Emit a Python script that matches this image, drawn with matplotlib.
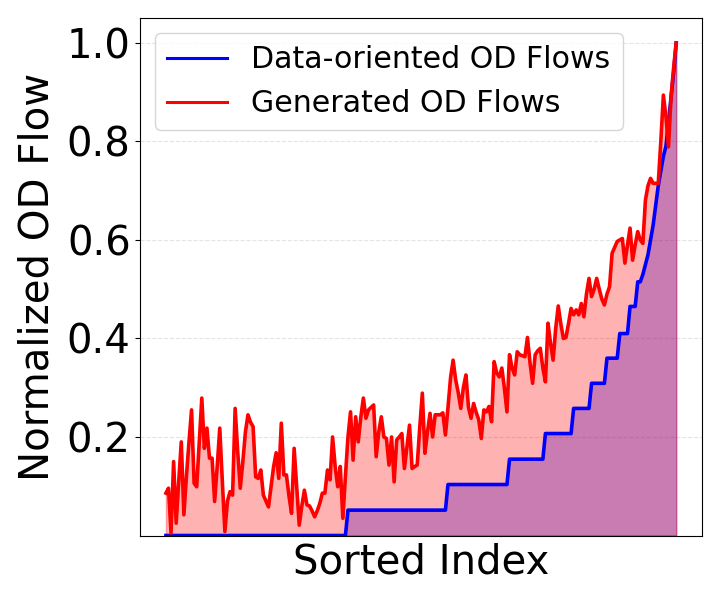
import matplotlib
matplotlib.use("Agg")
import matplotlib.pyplot as plt
import numpy as np

# Data-oriented (sorted) OD flows: level values and their run lengths
blue_levels = [0.0, 0.0515, 0.1035, 0.155, 0.207, 0.258, 0.309, 0.36, 0.41, 0.465, 0.515]
blue_counts = [71, 39, 24, 14, 11, 7, 6, 5, 4, 3, 2]
blue_tail = [0.53, 0.55, 0.57, 0.60, 0.63, 0.67, 0.71, 0.74, 0.77, 0.79, 0.84, 0.89, 0.94, 1.0]

# Generated OD flows
red_values = [
    0.086, 0.096, 0.005, 0.15, 0.025, 0.11, 0.19, 0.042, 0.12, 0.19,
    0.255, 0.106, 0.099, 0.19, 0.279, 0.177, 0.218, 0.157, 0.157, 0.069,
    0.14, 0.218, 0.11, 0.008, 0.07, 0.089, 0.082, 0.258, 0.17, 0.096,
    0.15, 0.21, 0.245, 0.23, 0.221, 0.119, 0.116, 0.133, 0.082, 0.07,
    0.058, 0.099, 0.14, 0.168, 0.116, 0.228, 0.123, 0.123, 0.08, 0.045,
    0.177, 0.1, 0.021, 0.06, 0.092, 0.062, 0.06, 0.05, 0.038, 0.05,
    0.065, 0.086, 0.086, 0.133, 0.113, 0.2, 0.14, 0.099, 0.14, 0.035,
    0.12, 0.2, 0.251, 0.153, 0.241, 0.19, 0.24, 0.279, 0.238, 0.255,
    0.26, 0.265, 0.16, 0.21, 0.241, 0.2, 0.197, 0.143, 0.2, 0.109,
    0.194, 0.2, 0.207, 0.136, 0.18, 0.224, 0.136, 0.14, 0.143, 0.22,
    0.289, 0.167, 0.21, 0.248, 0.2, 0.245, 0.245, 0.245, 0.249, 0.204,
    0.26, 0.32, 0.356, 0.316, 0.29, 0.258, 0.3, 0.326, 0.26, 0.238,
    0.268, 0.25, 0.235, 0.197, 0.255, 0.251, 0.262, 0.231, 0.353, 0.33,
    0.322, 0.34, 0.299, 0.251, 0.367, 0.34, 0.326, 0.373, 0.367, 0.365,
    0.363, 0.402, 0.35, 0.309, 0.367, 0.375, 0.38, 0.34, 0.312, 0.431,
    0.39, 0.356, 0.42, 0.466, 0.43, 0.4, 0.402, 0.43, 0.461, 0.448,
    0.458, 0.448, 0.471, 0.444, 0.49, 0.522, 0.485, 0.5, 0.522, 0.5,
    0.48, 0.468, 0.49, 0.505, 0.573, 0.585, 0.597, 0.6, 0.603, 0.553,
    0.59, 0.624, 0.559, 0.59, 0.617, 0.6, 0.593, 0.681, 0.71, 0.725,
    0.715, 0.715, 0.715, 0.8, 0.894, 0.85, 0.789, 0.891, 0.95, 1.0,
]

y_ticks = [0.2, 0.4, 0.6, 0.8, 1.0]
labels = ["Data-oriented OD Flows", "Generated OD Flows"]

blue_values = []
for lv, c in zip(blue_levels, blue_counts):
    blue_values += [lv] * c
blue_values += blue_tail
blue_values = np.array(blue_values)
red = np.array(red_values)
idx = np.arange(len(blue_values))

fig = plt.figure(figsize=(7.2, 6.0), dpi=100)
ax = fig.add_axes([0.195, 0.1075, 0.7796, 0.862])

ax.fill_between(idx, 0, blue_values, color="blue", alpha=0.3, linewidth=1)
ax.fill_between(idx, 0, red, color="red", alpha=0.3, linewidth=1)
ax.plot(idx, blue_values, color="blue", lw=2.6, label=labels[0],
        solid_joinstyle="round")
ax.plot(idx, red, color="red", lw=2.6, label=labels[1],
        solid_joinstyle="round")

ax.set_ylim(0, 1.05)
ax.set_yticks(y_ticks)
ax.set_yticklabels([f"{t:.1f}" for t in y_ticks])
ax.set_xticks([])
ax.tick_params(axis="y", labelsize=29)
ax.grid(axis="y", linestyle="--", color="lightgray", alpha=0.6)
ax.set_axisbelow(True)
ax.set_xlabel("Sorted Index", fontsize=29, labelpad=5)
ax.set_ylabel("Normalized OD Flow", fontsize=29, labelpad=7)
leg = ax.legend(loc="upper left", fontsize=21.6)
for h in leg.get_lines():
    h.set_linewidth(2.2)

fig.savefig("out.png", dpi=100)
